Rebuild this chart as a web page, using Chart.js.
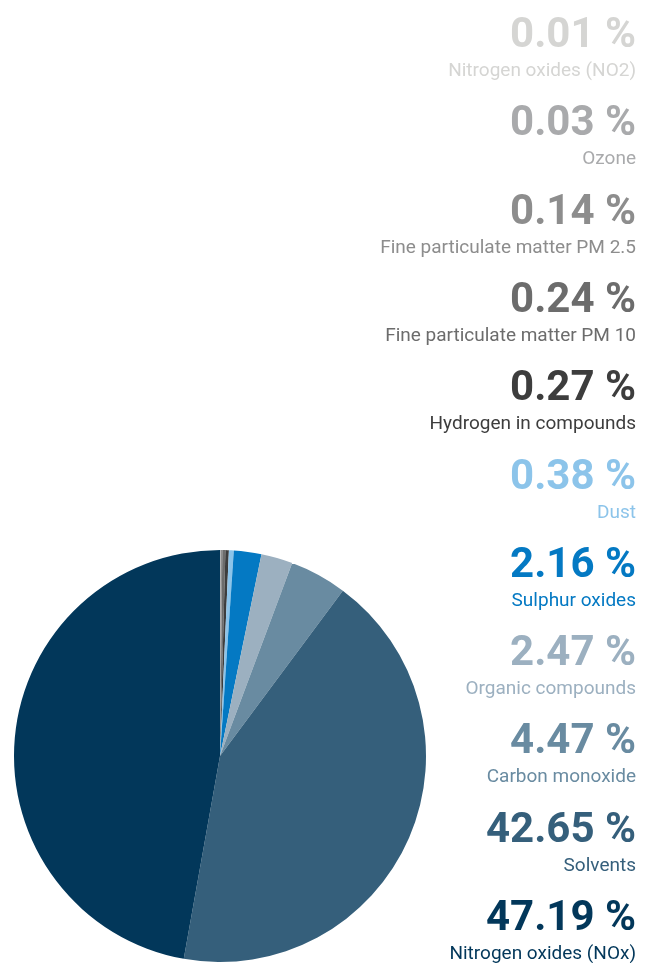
<!DOCTYPE html>
<html>
<head>
<meta charset="utf-8">
<script src="https://cdn.jsdelivr.net/npm/chart.js@4"></script>
<style>
  html, body { margin: 0; padding: 0; background: #fff; }
  #wrap { position: relative; width: 654px; height: 963px; }
</style>
</head>
<body>
<div id="wrap"><canvas id="pie" width="654" height="963"></canvas></div>
<script>
// emission shares, smallest first (clockwise from the top)
const labels = [
  "Nitrogen oxides (NO2)",
  "Ozone",
  "Fine particulate matter PM 2.5",
  "Fine particulate matter PM 10",
  "Hydrogen in compounds",
  "Dust",
  "Sulphur oxides",
  "Organic compounds",
  "Carbon monoxide",
  "Solvents",
  "Nitrogen oxides (NOx)"
];
const shares = [0.01, 0.03, 0.14, 0.24, 0.27, 0.38, 2.16, 2.47, 4.47, 42.65, 47.19];
const valueTexts = ["0.01 %", "0.03 %", "0.14 %", "0.24 %", "0.27 %", "0.38 %", "2.16 %", "2.47 %", "4.47 %", "42.65 %", "47.19 %"];
const colors = ["#d5d5d3", "#a9aaac", "#8d8d8d", "#6c6c6c", "#3d3d3d", "#8cc4ea", "#0479c3", "#9cb0c0", "#698ba1", "#355f7b", "#02375a"];

// right-hand list of values and names
const legendList = {
  id: 'legendList',
  afterDraw(chart) {
    const ctx = chart.ctx;
    ctx.save();
    ctx.textAlign = 'right';
    ctx.textBaseline = 'alphabetic';
    for (let i = 0; i < labels.length; i++) {
      const base = 47 + i * 88.3;
      ctx.fillStyle = colors[i];
      ctx.font = 'bold 42px Roboto';
      ctx.fillText(valueTexts[i], 636, base);
      ctx.font = '19px Roboto';
      ctx.fillText(labels[i], 636, base + 29);
    }
    ctx.restore();
  }
};

new Chart(document.getElementById('pie'), {
  type: 'pie',
  data: {
    labels: labels,
    datasets: [{
      data: shares,
      backgroundColor: colors,
      borderWidth: 0
    }]
  },
  options: {
    responsive: false,
    animation: false,
    layout: { padding: { left: 14, right: 228, top: 550, bottom: 1 } },
    plugins: {
      legend: { display: false },
      tooltip: { enabled: false }
    }
  },
  plugins: [legendList]
});
</script>
</body>
</html>
